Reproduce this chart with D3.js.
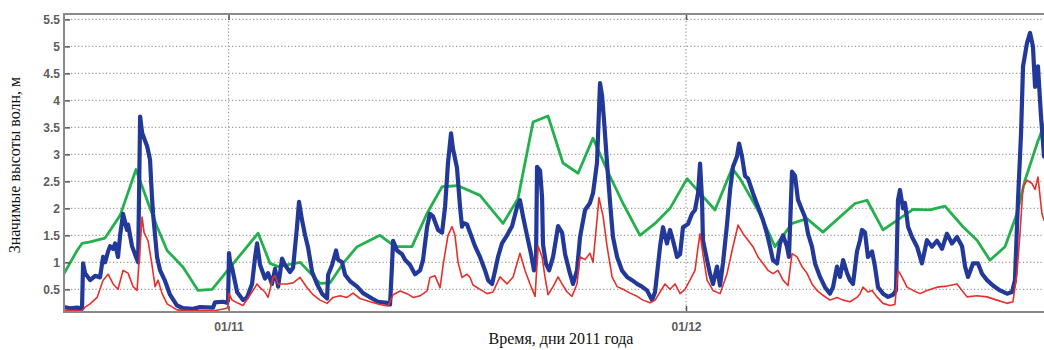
<!DOCTYPE html>
<html lang="ru">
<head>
<meta charset="utf-8">
<script src="https://cdn.jsdelivr.net/npm/d3@7"></script>
<style>
  html, body { margin: 0; padding: 0; background: #fff; }
  svg { display: block; }
  .tick text { font-family: "Liberation Sans", Arial, sans-serif; font-weight: bold; font-size: 12px; fill: #5c5c5c; }
  .title { font-family: "Liberation Serif", "Times New Roman", serif; font-size: 16px; fill: #111; }
</style>
</head>
<body>
<svg id="chart" width="1044" height="350"></svg>
<script>
// Time axis: days counted from 21.10.2011 00:00
const periodStart = new Date(2011, 9, 21, 0, 0);
const axisStart = new Date(2011, 9, 21, 5, 0);
const axisEnd = new Date(2011, 11, 25, 0, 0);

const xTickDates = ["2011-11-01", "2011-12-01"];
const xTickLabels = ["01/11", "01/12"];
const yTickValues = [0.5, 1, 1.5, 2, 2.5, 3, 3.5, 4, 4.5, 5, 5.5];
const yDomain = [0.08, 5.6];

// [day, height m] — blue series
const seriesBlue = [
  [0.21,0.17],[0.61,0.15],[1.07,0.16],[1.39,0.15],[1.46,0.98],[1.59,0.80],[1.92,0.67],[2.25,0.75],
  [2.57,0.72],[2.77,1.10],[2.90,1.00],[3.10,1.20],[3.23,1.30],[3.43,1.25],[3.56,1.35],[3.75,1.10],
  [3.89,1.50],[4.08,1.90],[4.34,1.60],[4.41,1.70],[4.67,1.30],[4.93,1.10],[5.07,1.00],[5.20,3.70],
  [5.33,3.40],[5.46,3.30],[5.66,3.15],[5.85,2.90],[5.98,2.20],[6.05,1.90],[6.18,1.50],[6.31,1.10],
  [6.51,0.85],[6.84,0.65],[7.16,0.40],[7.62,0.20],[8.02,0.15],[8.67,0.14],[9.13,0.17],[9.98,0.16],
  [10.11,0.26],[10.64,0.27],[10.90,0.25],[10.97,0.30],[11.03,1.17],[11.10,1.00],[11.23,0.90],[11.56,0.45],
  [11.95,0.30],[12.21,0.35],[12.54,0.60],[12.74,1.10],[12.87,1.35],[13.07,0.95],[13.39,0.70],[13.59,0.80],
  [13.85,0.60],[14.05,0.88],[14.25,0.55],[14.51,1.07],[14.70,0.95],[15.03,0.82],[15.23,0.90],[15.49,1.66],
  [15.62,2.12],[15.82,1.78],[16.02,1.50],[16.21,1.28],[16.48,0.82],[16.80,0.60],[17.13,0.42],[17.46,0.33],
  [17.53,0.77],[17.79,0.95],[18.05,1.22],[18.18,1.05],[18.44,1.00],[18.64,0.77],[18.97,0.65],[19.43,0.55],
  [19.82,0.43],[20.41,0.33],[20.80,0.27],[21.39,0.25],[21.59,0.22],[21.72,0.95],[21.79,1.40],[22.05,1.22],
  [22.38,1.15],[22.57,1.05],[22.90,0.95],[23.23,0.78],[23.56,0.85],[23.75,1.04],[24.02,1.66],[24.21,1.90],
  [24.41,1.85],[24.74,1.60],[25.00,1.55],[25.20,2.03],[25.39,2.84],[25.59,3.39],[25.72,3.10],[25.98,2.75],
  [26.18,2.03],[26.31,1.66],[26.38,1.73],[26.64,1.70],[26.84,1.55],[27.16,1.30],[27.49,1.10],[27.82,0.85],
  [28.02,0.67],[28.28,0.60],[28.48,0.85],[28.67,1.10],[28.93,1.35],[29.26,1.50],[29.59,1.67],[29.92,2.03],
  [30.11,2.15],[30.31,1.85],[30.57,1.50],[30.84,1.15],[31.03,0.85],[31.16,1.00],[31.23,2.77],[31.43,2.70],
  [31.56,2.20],[31.62,1.33],[31.82,0.97],[32.02,0.85],[32.28,1.10],[32.61,1.67],[32.87,1.55],[33.07,1.15],
  [33.39,0.79],[33.59,0.60],[33.85,0.85],[34.05,1.47],[34.38,1.97],[34.70,2.10],[34.90,2.28],[35.16,2.84],
  [35.36,4.32],[35.49,4.10],[35.62,3.64],[35.82,2.84],[36.02,2.10],[36.21,1.47],[36.48,1.10],[36.80,0.85],
  [37.13,0.73],[37.46,0.67],[37.79,0.60],[38.11,0.55],[38.44,0.48],[38.77,0.30],[38.97,0.45],[39.30,1.30],
  [39.49,1.65],[39.75,1.35],[39.95,1.60],[40.15,1.40],[40.41,1.10],[40.61,1.15],[40.80,1.65],[41.13,1.71],
  [41.39,1.90],[41.59,1.97],[41.79,2.28],[41.92,2.83],[42.05,2.16],[42.11,1.41],[42.38,1.04],[42.57,0.79],
  [42.77,0.60],[43.03,0.92],[43.23,0.57],[43.43,1.00],[43.69,1.71],[43.89,2.34],[44.08,2.77],[44.34,2.96],
  [44.48,3.20],[44.67,2.96],[44.87,2.60],[45.07,2.55],[45.39,2.28],[45.72,2.03],[46.05,1.78],[46.31,1.53],
  [46.51,1.29],[46.70,1.04],[46.97,0.98],[47.16,1.35],[47.36,1.50],[47.62,1.29],[47.75,1.10],[47.95,2.68],
  [48.15,2.60],[48.34,2.16],[48.61,1.97],[48.80,1.84],[49.00,1.53],[49.26,1.29],[49.46,0.98],[49.79,0.73],
  [50.11,0.54],[50.44,0.42],[50.64,0.54],[50.90,0.92],[51.10,0.73],[51.30,1.04],[51.56,0.80],[51.75,0.67],
  [51.95,0.60],[52.21,1.20],[52.41,1.41],[52.54,1.60],[52.74,1.55],[52.93,1.10],[53.20,1.20],[53.39,0.92],
  [53.59,0.54],[53.92,0.42],[54.25,0.36],[54.57,0.40],[54.77,0.48],[54.90,2.15],[55.03,2.34],[55.23,2.00],
  [55.36,2.10],[55.56,1.66],[55.82,1.47],[56.15,1.29],[56.47,0.98],[56.80,1.41],[57.13,1.29],[57.46,1.40],
  [57.79,1.25],[58.11,1.53],[58.44,1.35],[58.77,1.47],[59.10,1.30],[59.30,0.92],[59.49,0.73],[59.82,0.98],
  [60.15,0.98],[60.41,0.79],[60.74,0.67],[61.13,0.57],[61.59,0.48],[62.05,0.42],[62.38,0.45],[62.57,0.67],
  [62.77,2.15],[62.97,3.39],[63.10,4.63],[63.36,5.06],[63.56,5.25],[63.75,5.00],[63.89,4.25],[64.08,4.63],
  [64.28,3.70],[64.48,2.96]
];

// [day, height m] — red series
const seriesRed = [
  [0.21,0.11],[1.39,0.10],[1.59,0.17],[1.92,0.23],[2.38,0.35],[2.77,0.67],[3.10,0.78],[3.43,0.60],
  [3.75,0.50],[4.08,0.85],[4.41,0.80],[4.74,0.55],[5.00,0.48],[5.33,1.84],[5.46,1.55],[5.72,1.40],
  [5.98,0.95],[6.18,0.55],[6.38,0.67],[6.64,0.42],[6.97,0.23],[7.62,0.12],[8.48,0.10],[9.98,0.10],
  [10.90,0.15],[10.97,0.20],[11.03,0.42],[11.23,0.30],[11.56,0.25],[11.95,0.20],[12.54,0.45],[12.87,0.60],
  [13.07,0.53],[13.39,0.45],[13.59,0.35],[13.92,0.72],[14.05,0.75],[14.25,0.60],[14.84,0.60],[15.23,0.62],
  [15.69,0.72],[16.15,0.53],[16.54,0.40],[17.00,0.30],[17.46,0.24],[17.85,0.35],[18.31,0.38],[18.77,0.35],
  [19.16,0.43],[19.62,0.33],[20.28,0.27],[20.93,0.22],[21.46,0.19],[21.79,0.40],[22.25,0.47],[22.70,0.42],
  [23.10,0.35],[23.56,0.38],[24.02,0.47],[24.21,0.72],[24.54,0.75],[24.87,0.53],[25.07,0.95],[25.39,1.50],
  [25.66,1.66],[25.85,1.50],[26.05,1.00],[26.31,0.72],[26.64,0.78],[26.84,0.72],[27.03,0.58],[27.49,0.50],
  [27.95,0.42],[28.34,0.45],[28.80,0.73],[29.26,0.60],[29.66,0.73],[30.11,1.17],[30.44,0.85],[30.77,0.60],
  [31.10,0.37],[31.30,1.30],[31.56,1.10],[31.75,0.73],[31.95,0.40],[32.28,0.55],[32.61,0.73],[32.87,0.60],
  [33.20,0.45],[33.52,0.37],[33.85,0.60],[34.05,1.10],[34.38,1.05],[34.70,1.17],[34.90,1.00],[35.16,1.78],
  [35.29,2.20],[35.56,1.85],[35.82,1.30],[36.15,0.73],[36.48,0.55],[36.87,0.50],[37.33,0.43],[37.79,0.37],
  [38.18,0.30],[38.64,0.25],[38.97,0.30],[39.30,0.45],[39.62,0.60],[39.95,0.50],[40.28,0.60],[40.61,0.42],
  [40.93,0.50],[41.26,0.67],[41.59,0.85],[41.79,1.29],[41.92,1.53],[42.11,1.15],[42.38,0.67],[42.77,0.48],
  [43.23,0.42],[43.69,0.79],[44.02,1.22],[44.41,1.69],[44.74,1.53],[45.07,1.41],[45.39,1.29],[45.72,1.10],
  [46.05,0.98],[46.38,0.85],[46.70,0.79],[47.03,0.85],[47.36,0.67],[47.69,0.57],[47.95,1.16],[48.28,1.10],
  [48.61,0.92],[48.93,0.80],[49.26,0.60],[49.59,0.48],[49.98,0.39],[50.44,0.30],[50.90,0.35],[51.30,0.30],
  [51.75,0.27],[52.21,0.35],[52.41,0.42],[52.61,0.54],[52.93,0.45],[53.20,0.48],[53.52,0.36],[53.92,0.24],
  [54.38,0.20],[54.70,0.22],[54.90,0.85],[55.16,0.73],[55.49,0.54],[55.89,0.48],[56.34,0.42],[56.80,0.48],
  [57.46,0.54],[58.11,0.56],[58.77,0.60],[59.10,0.48],[59.43,0.36],[60.08,0.38],[60.74,0.36],[61.39,0.30],
  [62.05,0.24],[62.44,0.27],[62.70,0.79],[62.90,1.53],[63.10,2.40],[63.36,2.52],[63.69,2.46],[63.89,2.35],
  [64.08,2.58],[64.34,1.90],[64.48,1.78]
];

// [day, height m] — green series
const seriesGreen = [
  [0.21,0.79],[1.07,1.22],[1.39,1.35],[1.92,1.38],[2.90,1.45],[3.89,1.87],[4.93,2.72],[5.66,2.15],
  [6.31,1.66],[6.97,1.22],[8.02,0.91],[9.00,0.48],[9.92,0.50],[12.94,1.54],[13.72,0.98],[14.25,0.92],
  [15.69,1.00],[17.00,0.61],[17.66,0.62],[18.51,0.98],[19.43,1.29],[20.93,1.50],[21.92,1.29],[23.03,1.29],
  [24.02,1.91],[25.00,2.40],[26.05,2.42],[27.49,2.24],[29.00,1.72],[29.98,2.18],[30.97,3.60],[31.95,3.71],
  [32.93,2.84],[33.92,2.65],[34.90,3.30],[35.82,2.71],[36.87,2.09],[37.98,1.50],[38.97,1.72],[39.95,2.00],
  [41.07,2.55],[42.90,1.97],[44.02,2.74],[44.54,2.55],[45.85,1.90],[46.83,1.29],[47.95,1.72],[48.93,1.81],
  [49.98,1.56],[52.08,2.09],[52.87,2.15],[53.92,1.60],[55.89,1.98],[57.00,1.97],[57.98,2.04],[59.16,1.66],
  [60.08,1.41],[60.93,1.04],[61.92,1.29],[62.70,1.90],[63.23,2.52],[64.02,3.20],[64.48,3.55]
];

const svg = d3.select("#chart");
const plot = { left: 64, top: 14, right: 1052, bottom: 312 };

const x = d3.scaleTime().domain([axisStart, axisEnd]).range([plot.left, plot.right]);
const y = d3.scaleLinear().domain(yDomain).range([plot.bottom, plot.top]);

const toDate = d => new Date(periodStart.getTime() + d * 864e5);
const parseDay = d3.timeParse("%Y-%m-%d");
const xTicks = xTickDates.map(parseDay);

// clip region for the data lines
svg.append("defs").append("clipPath").attr("id", "plotClip")
  .append("rect")
  .attr("x", plot.left).attr("y", plot.top)
  .attr("width", plot.right - plot.left).attr("height", plot.bottom - plot.top);

// dotted grid
const grid = svg.append("g").attr("stroke", "#9a9a9a").attr("stroke-width", 1.2)
  .attr("stroke-dasharray", "1.2,2.3").attr("fill", "none");
grid.selectAll("line.h").data(yTickValues).join("line").attr("class", "h")
  .attr("x1", plot.left).attr("x2", plot.right)
  .attr("y1", d => y(d)).attr("y2", d => y(d));
grid.selectAll("line.v").data(xTicks).join("line").attr("class", "v")
  .attr("y1", plot.top).attr("y2", plot.bottom)
  .attr("x1", d => x(d)).attr("x2", d => x(d));

// data lines
const line = d3.line()
  .x(p => x(toDate(p[0])))
  .y(p => y(p[1]))
  .curve(d3.curveLinear);

const lines = svg.append("g").attr("clip-path", "url(#plotClip)")
  .attr("fill", "none").attr("stroke-linejoin", "round").attr("stroke-linecap", "round");
lines.append("path").datum(seriesGreen).attr("d", line)
  .attr("stroke", "#25b04e").attr("stroke-width", 2.8);
lines.append("path").datum(seriesBlue).attr("d", line)
  .attr("stroke", "#22399a").attr("stroke-width", 4.2);
lines.append("path").datum(seriesRed).attr("d", line)
  .attr("stroke", "#e5302c").attr("stroke-width", 1.6);

// axes (ticks point inward)
const yAxis = d3.axisLeft(y).tickValues(yTickValues).tickFormat(d3.format("~g"))
  .tickSizeInner(-6).tickSizeOuter(0).tickPadding(4);
const gy = svg.append("g").attr("transform", `translate(${plot.left},0)`).call(yAxis);

const xAxis = d3.axisBottom(x).tickValues(xTicks).tickFormat((d, i) => xTickLabels[i])
  .tickSizeInner(-6).tickSizeOuter(0).tickPadding(10);
const gx = svg.append("g").attr("transform", `translate(0,${plot.bottom})`).call(xAxis);

const xAxisTop = d3.axisTop(x).tickValues(xTicks).tickFormat("")
  .tickSizeInner(-6).tickSizeOuter(0);
const gxTop = svg.append("g").attr("transform", `translate(0,${plot.top})`).call(xAxisTop);

[gy, gx, gxTop].forEach(g => {
  g.select(".domain").remove();
  g.selectAll(".tick line").attr("stroke", "#555").attr("stroke-width", 1.5);
});

// frame
svg.append("rect")
  .attr("x", plot.left).attr("y", plot.top)
  .attr("width", plot.right - plot.left).attr("height", plot.bottom - plot.top)
  .attr("fill", "none").attr("stroke", "#8a8a8a").attr("stroke-width", 2);

// titles
svg.append("text").attr("class", "title")
  .attr("transform", `translate(20,${(plot.top + plot.bottom) / 2 + 2}) rotate(-90)`)
  .attr("text-anchor", "middle")
  .text("Значимые высоты волн, м");

svg.append("text").attr("class", "title")
  .attr("x", 561).attr("y", 344)
  .attr("text-anchor", "middle")
  .text("Время, дни 2011 года");
</script>
</body>
</html>
